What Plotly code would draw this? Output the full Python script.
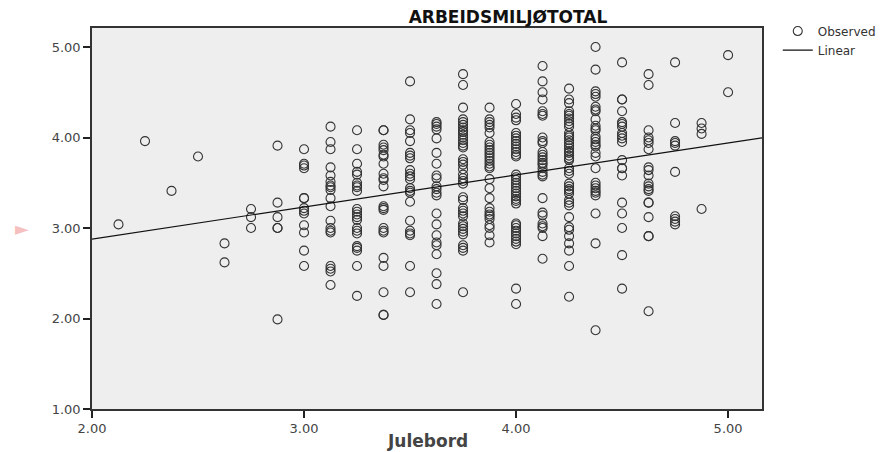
import plotly.graph_objects as go

# ---- data ----
julebord_levels = [2.125, 2.25, 2.375, 2.5, 2.625, 2.75, 2.875, 3.0, 3.125, 3.25, 3.375, 3.5,
                   3.625, 3.75, 3.875, 4.0, 4.125, 4.25, 4.375, 4.5, 4.625, 4.75, 4.875, 5.0]

arbeidsmiljo_by_level = [
    [3.04],
    [3.96],
    [3.41],
    [3.79],
    [2.83, 2.62],
    [3.21, 3.12, 3.00],
    [3.91, 3.28, 3.12, 3.00, 3.00, 1.99],
    [3.87, 3.71, 3.69, 3.66, 3.33, 3.33, 3.22, 3.19, 3.16, 3.03, 2.95, 2.75, 2.58],
    [4.12, 3.95, 3.87, 3.67, 3.58, 3.51, 3.47, 3.45, 3.42, 3.33, 3.24, 3.08, 3.00, 2.97, 2.95,
     2.58, 2.55, 2.52, 2.37],
    [4.08, 3.87, 3.71, 3.62, 3.59, 3.50, 3.47, 3.45, 3.41, 3.21, 3.18, 3.15, 3.12, 3.09, 3.00,
     2.97, 2.94, 2.80, 2.78, 2.75, 2.58, 2.25],
    [4.08, 4.08, 3.92, 3.89, 3.86, 3.81, 3.79, 3.71, 3.60, 3.55, 3.53, 3.46, 3.24, 3.22, 3.20,
     3.00, 2.97, 2.95, 2.67, 2.58, 2.29, 2.04, 2.04],
    [4.62, 4.20, 4.08, 4.05, 3.96, 3.83, 3.80, 3.77, 3.64, 3.60, 3.57, 3.54, 3.44, 3.41, 3.39,
     3.29, 3.08, 2.97, 2.94, 2.92, 2.58, 2.29],
    [4.17, 4.15, 4.12, 4.09, 3.99, 3.83, 3.71, 3.58, 3.55, 3.46, 3.43, 3.39, 3.36, 3.16, 3.04,
     2.92, 2.84, 2.81, 2.71, 2.50, 2.38, 2.16],
    [4.70, 4.58, 4.33, 4.20, 4.17, 4.14, 4.11, 4.08, 4.06, 4.03, 4.00, 3.97, 3.94, 3.91, 3.89,
     3.76, 3.73, 3.70, 3.65, 3.59, 3.55, 3.52, 3.49, 3.34, 3.31, 3.22, 3.19, 3.16, 3.13, 3.05,
     3.02, 2.99, 2.96, 2.93, 2.81, 2.78, 2.75, 2.29],
    [4.33, 4.20, 4.17, 4.14, 4.11, 4.05, 3.95, 3.92, 3.89, 3.86, 3.83, 3.80, 3.77, 3.74, 3.71,
     3.68, 3.66, 3.54, 3.44, 3.33, 3.22, 3.18, 3.15, 3.13, 3.10, 3.03, 3.00, 2.92, 2.84],
    [4.37, 4.26, 4.22, 4.19, 4.05, 4.02, 3.99, 3.96, 3.93, 3.90, 3.87, 3.84, 3.81, 3.79, 3.59,
     3.56, 3.53, 3.50, 3.47, 3.44, 3.41, 3.38, 3.35, 3.32, 3.30, 3.27, 3.05, 3.03, 3.00, 2.97,
     2.94, 2.91, 2.88, 2.85, 2.82, 2.33, 2.16],
    [4.79, 4.62, 4.50, 4.42, 4.29, 4.26, 4.24, 4.00, 3.96, 3.94, 3.84, 3.81, 3.78, 3.75, 3.72,
     3.70, 3.66, 3.62, 3.59, 3.57, 3.33, 3.17, 3.14, 3.05, 3.02, 3.00, 2.91, 2.66],
    [4.54, 4.42, 4.38, 4.29, 4.26, 4.24, 4.21, 4.18, 4.15, 4.12, 4.05, 4.02, 4.00, 3.97, 3.94,
     3.91, 3.88, 3.85, 3.83, 3.80, 3.77, 3.75, 3.66, 3.63, 3.60, 3.49, 3.46, 3.43, 3.41, 3.38,
     3.31, 3.28, 3.25, 3.12, 3.01, 2.98, 2.91, 2.83, 2.75, 2.58, 2.24],
    [5.00, 4.75, 4.51, 4.48, 4.45, 4.34, 4.31, 4.29, 4.20, 4.13, 4.10, 4.08, 4.01, 3.98, 3.95,
     3.92, 3.90, 3.83, 3.79, 3.66, 3.50, 3.47, 3.44, 3.41, 3.39, 3.36, 3.16, 2.83, 1.87],
    [4.83, 4.42, 4.42, 4.29, 4.17, 4.15, 4.12, 4.05, 4.02, 3.99, 3.95, 3.75, 3.66, 3.66, 3.58,
     3.28, 3.16, 3.00, 2.70, 2.33],
    [4.70, 4.58, 4.08, 4.00, 3.97, 3.94, 3.87, 3.67, 3.64, 3.58, 3.49, 3.46, 3.43, 3.41, 3.28,
     3.28, 3.12, 2.91, 2.91, 2.08],
    [4.83, 4.16, 3.96, 3.94, 3.91, 3.62, 3.13, 3.10, 3.07, 3.04],
    [4.16, 4.10, 4.04, 3.21],
    [4.91, 4.50],
]

# linear fit line (coefficients)
fit_intercept = 2.17
fit_slope = 0.354
x_range = [2.0, 5.16]
y_range = [1.0, 5.21]
y_ticks = [1.0, 2.0, 3.0, 4.0, 5.0]
x_ticks = [2.0, 3.0, 4.0, 5.0]

title_text = "ARBEIDSMILJØTOTAL"
x_title = "Julebord"

# ---- build ----
obs_x, obs_y = [], []
for lvl, vals in zip(julebord_levels, arbeidsmiljo_by_level):
    obs_x.extend([lvl] * len(vals))
    obs_y.extend(vals)

line_x = x_range
line_y = [fit_intercept + fit_slope * v for v in line_x]

FONT = "DejaVu Sans"

fig = go.Figure()
fig.add_trace(go.Scatter(
    x=obs_x, y=obs_y, mode="markers", name="Observed",
    marker=dict(symbol="circle-open", size=9, color="#333333", line=dict(width=1.1)),
    cliponaxis=True,
))
fig.add_trace(go.Scatter(
    x=line_x, y=line_y, mode="lines", name="Linear",
    line=dict(color="#111111", width=1.2),
))

fig.update_layout(
    width=892, height=452,
    margin=dict(l=92, r=129, t=28, b=43),
    paper_bgcolor="white",
    plot_bgcolor="#EEEEEE",
    font=dict(family=FONT, size=12, color="#444444"),
    showlegend=True,
    legend=dict(
        x=1.022, y=1.03, xanchor="left", yanchor="top",
        font=dict(family=FONT, size=12, color="#333333"),
        bgcolor="rgba(0,0,0,0)", tracegroupgap=0, itemwidth=30,
    ),
    title=dict(
        text="<b>" + title_text + "</b>",
        x=508 / 892, xanchor="center", y=1 - 17 / 452, yanchor="middle",
        font=dict(family=FONT, size=17, color="#111111"),
    ),
)

fig.update_xaxes(
    range=x_range, tickvals=x_ticks, tickformat=".2f",
    ticks="outside", ticklen=7, tickwidth=1.5, tickcolor="#222222",
    showgrid=False, zeroline=False,
    showline=True, linecolor="#333333", linewidth=1.5, mirror=True,
    tickfont=dict(family=FONT, size=13, color="#444444"),
)
fig.update_yaxes(
    range=y_range, tickvals=y_ticks, tickformat=".2f",
    ticks="outside", ticklen=7, tickwidth=1.5, tickcolor="#222222",
    showgrid=False, zeroline=False,
    showline=True, linecolor="#333333", linewidth=1.5, mirror=True,
    tickfont=dict(family=FONT, size=13, color="#444444"),
)

# x axis title
fig.add_annotation(
    text="<b>" + x_title + "</b>", xref="paper", yref="paper",
    x=0.5, y=-0.084, xanchor="center", yanchor="middle", showarrow=False,
    font=dict(family=FONT, size=17, color="#444444"),
)
# faint pink pointer at the left margin (screenshot artifact in the reference)
fig.add_annotation(
    text="►", xref="paper", yref="y",
    x=-0.105, y=3.0, xanchor="center", yanchor="middle", showarrow=False,
    font=dict(family=FONT, size=18, color="rgba(240,130,130,0.5)"),
)

fig.write_html("out.html")
